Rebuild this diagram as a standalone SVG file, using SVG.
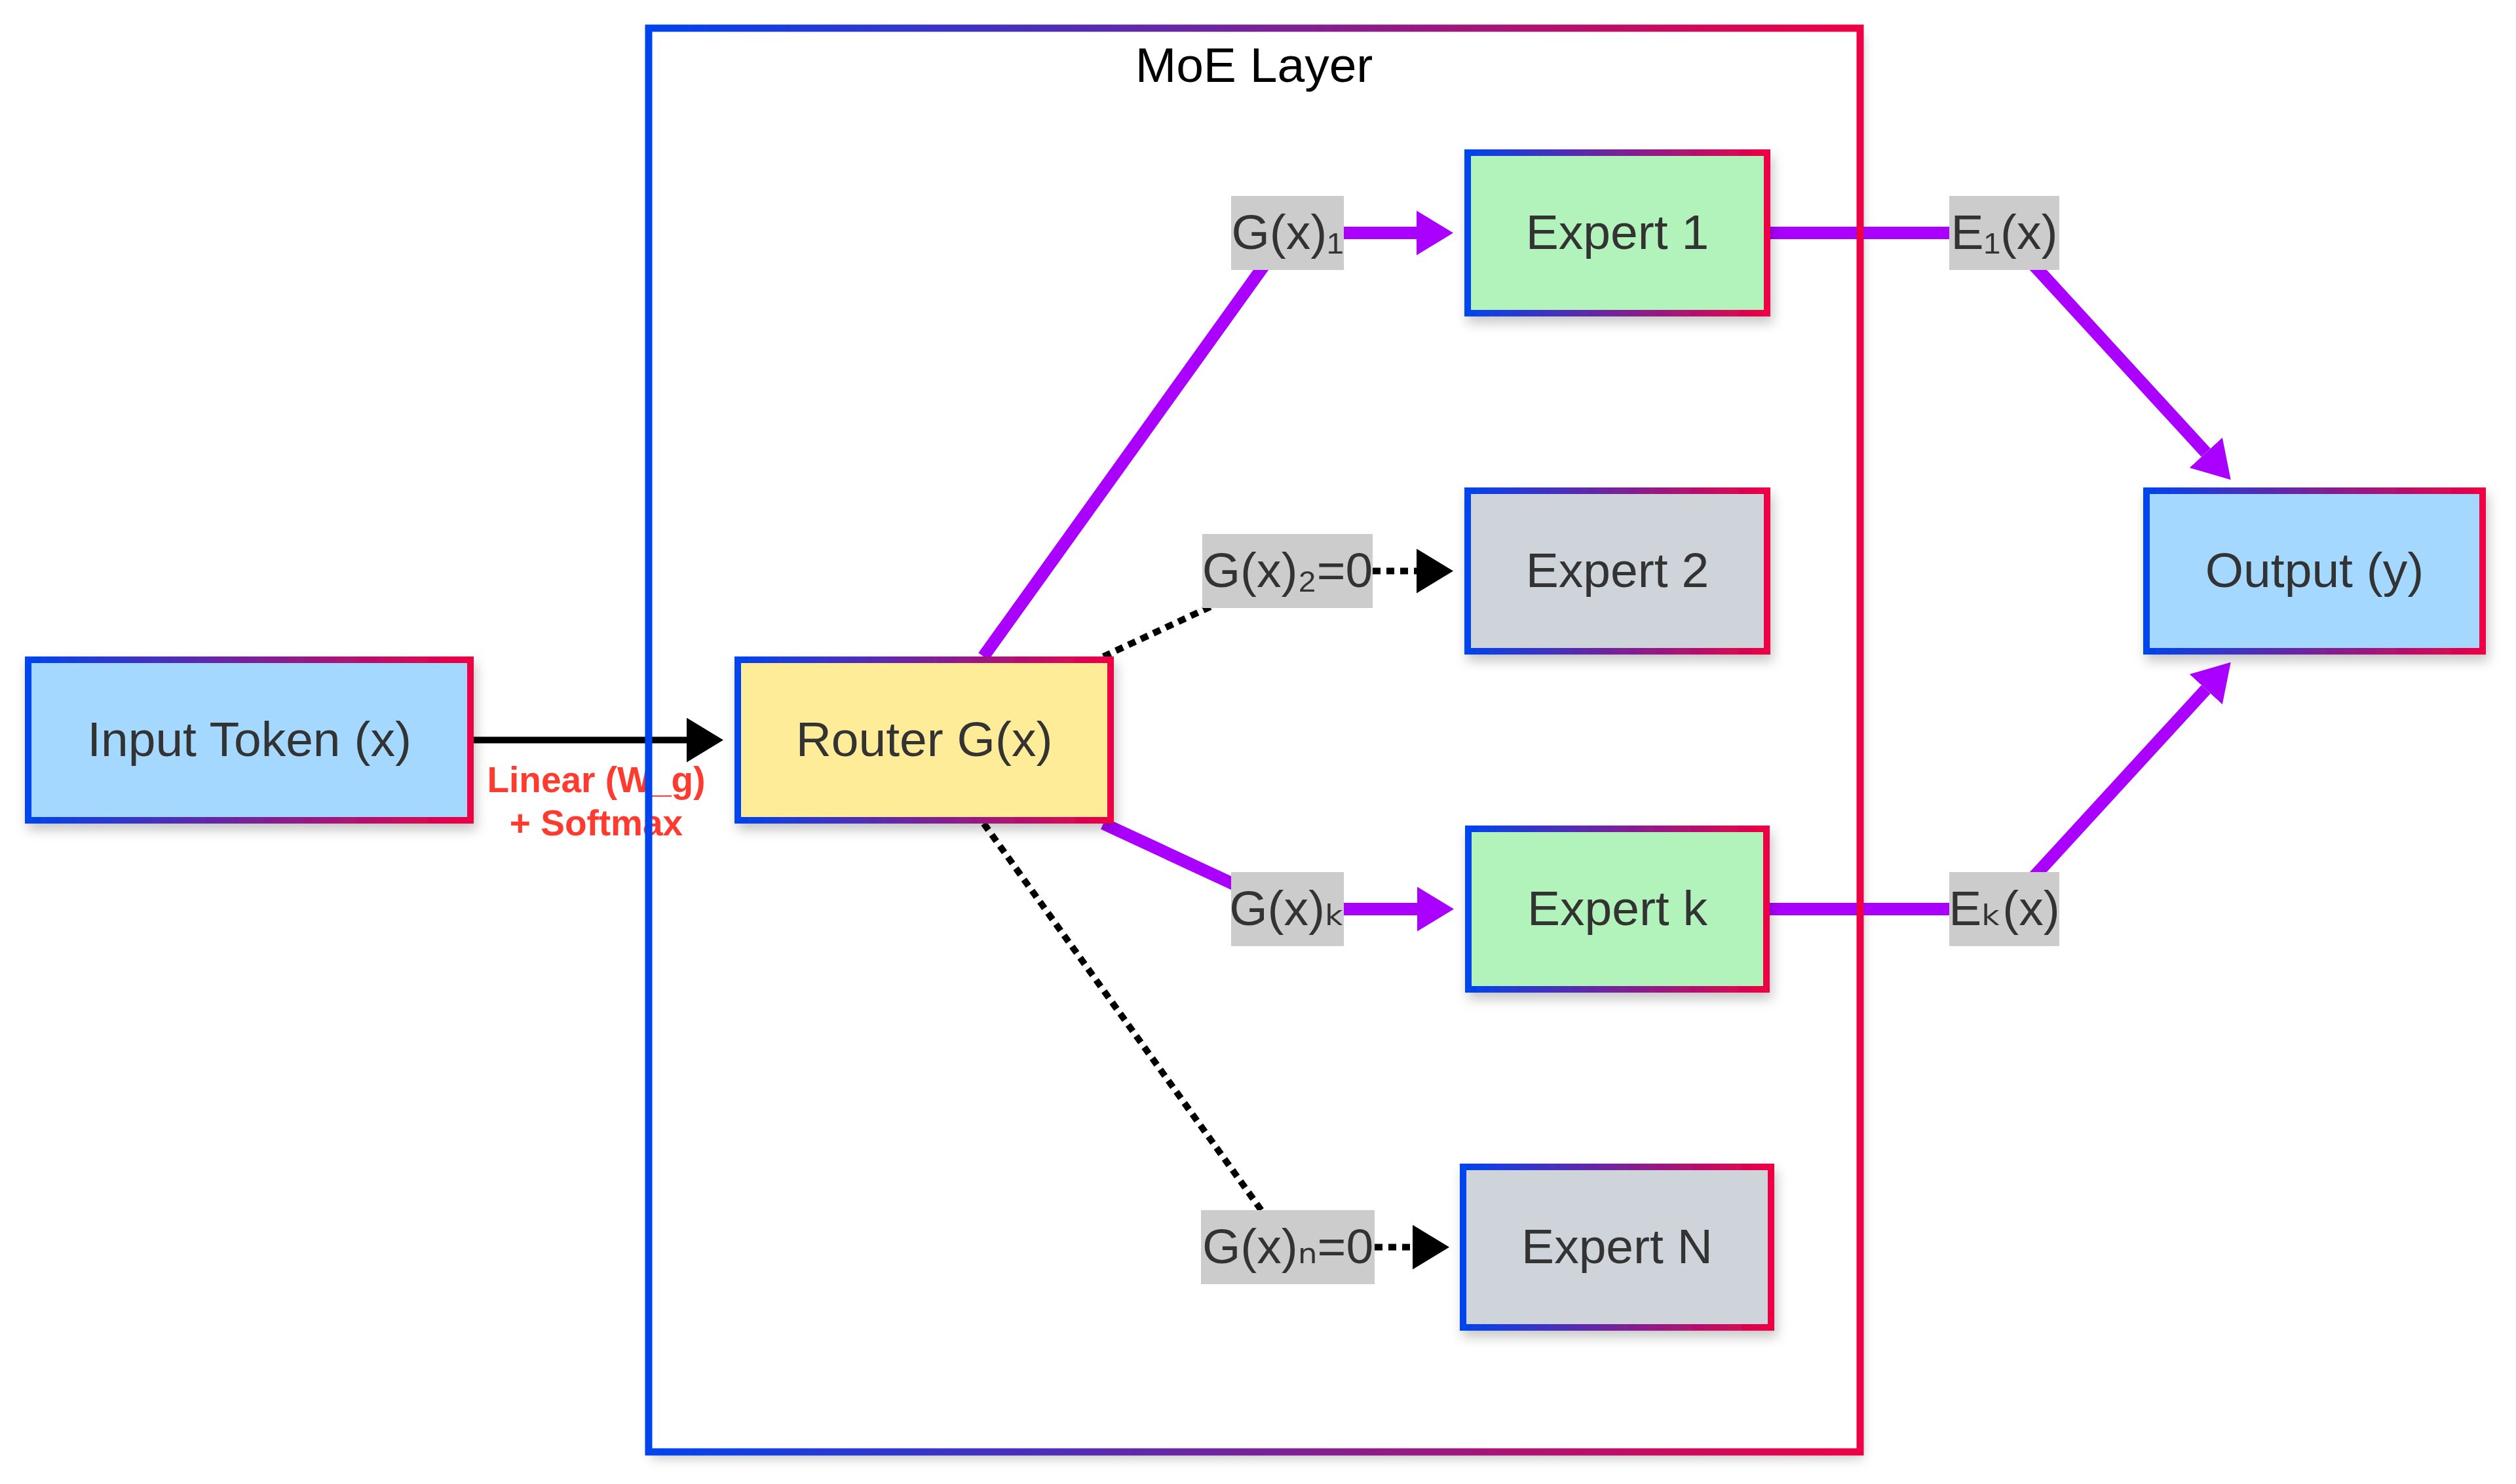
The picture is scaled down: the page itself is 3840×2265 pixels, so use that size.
<svg xmlns="http://www.w3.org/2000/svg" width="3840" height="2265" viewBox="0 0 3840 2265">
  <defs>
    <linearGradient id="bord" x1="0" y1="0" x2="1" y2="0">
      <stop offset="0" stop-color="#0044ee"/>
      <stop offset="1" stop-color="#ee0044"/>
    </linearGradient>
    <filter id="shadow" x="-10%" y="-10%" width="125%" height="130%">
      <feDropShadow dx="4" dy="10" stdDeviation="9" flood-color="#000" flood-opacity="0.22"/>
    </filter>
    <marker id="arrBlack" markerUnits="userSpaceOnUse" markerWidth="56" markerHeight="68" refX="0" refY="34" orient="auto" viewBox="0 0 56 68">
      <path d="M0,0 L56,34 L0,68 z" fill="#000"/>
    </marker>
    <marker id="arrPurple" markerUnits="userSpaceOnUse" markerWidth="56" markerHeight="68" refX="0" refY="34" orient="auto" viewBox="0 0 56 68">
      <path d="M0,0 L56,34 L0,68 z" fill="#aa00ff"/>
    </marker>
    <style>
      .node rect { stroke: url(#bord); stroke-width: 10; filter: url(#shadow); }
      .t { font-family: "Liberation Sans", Arial, Helvetica, "DejaVu Sans", sans-serif; font-size: 75px; fill: #333333; text-anchor: middle; }
      .blue { fill: #a5d8ff; }
      .yellow { fill: #ffec99; }
      .green { fill: #b2f2bb; }
      .gray { fill: #ced4da; }
      .solid { fill: none; stroke: #000; stroke-width: 10; }
      .dotted { fill: none; stroke: #000; stroke-width: 10; stroke-dasharray: 12 9; }
      .purple { fill: none; stroke: #aa00ff; stroke-width: 19; }
      .lbl rect { fill: #cccccc; }
      .red { font-family: "Liberation Sans", Arial, Helvetica, sans-serif; font-size: 55px; font-weight: bold; fill: #ff3b30; text-anchor: middle; }
    </style>
  </defs>

  <rect x="0" y="0" width="3840" height="2265" fill="#ffffff"/>

  <!-- MoE Layer cluster background -->
  <g id="moe-layer-bg">
    <rect x="990" y="43" width="1849" height="2173" fill="#ffffff" filter="url(#shadow)"/>
  </g>

  <!-- connectors -->
  <g id="connectors">
    <line class="solid" x1="723" y1="1129.5" x2="1048" y2="1129.5" marker-end="url(#arrBlack)"/>
    <line class="purple" x1="1501" y1="1002" x2="1965" y2="355.5"/>
    <line class="purple" x1="2051" y1="355.5" x2="2162" y2="355.5" marker-end="url(#arrPurple)"/>
    <line class="dotted" x1="1684" y1="1002" x2="1965" y2="871.5"/>
    <line class="dotted" x1="2095" y1="871.5" x2="2162" y2="871.5" marker-end="url(#arrBlack)"/>
    <line class="purple" x1="1684" y1="1257" x2="1965" y2="1387.5"/>
    <line class="purple" x1="2051" y1="1387.5" x2="2163" y2="1387.5" marker-end="url(#arrPurple)"/>
    <line class="dotted" x1="1501.5" y1="1257" x2="1965.5" y2="1903.5"/>
    <line class="dotted" x1="2098" y1="1903.5" x2="2156" y2="1903.5" marker-end="url(#arrBlack)"/>
    <line class="purple" x1="2702" y1="355.5" x2="3059" y2="355.5"/>
    <line class="purple" x1="3059" y1="355.5" x2="3366.8" y2="690.9" marker-end="url(#arrPurple)"/>
    <line class="purple" x1="2700" y1="1387.5" x2="3059" y2="1387.5"/>
    <line class="purple" x1="3059" y1="1387.5" x2="3366.8" y2="1052.1" marker-end="url(#arrPurple)"/>

    <g class="lbl">
      <rect x="1879" y="299" width="172" height="113"/>
      <text class="t" x="1965" y="380">G(x)₁</text>
      <rect x="1835" y="815" width="260" height="113"/>
      <text class="t" x="1965" y="896">G(x)₂=0</text>
      <rect x="1879" y="1331" width="172" height="113"/>
      <text class="t" x="1965" y="1412">G(x)ₖ</text>
      <rect x="1833" y="1847" width="265" height="113"/>
      <text class="t" x="1965.5" y="1928">G(x)ₙ=0</text>
      <rect x="2975" y="299" width="168" height="113"/>
      <text class="t" x="3059" y="380">E₁(x)</text>
      <rect x="2975" y="1331" width="168" height="113"/>
      <text class="t" x="3059" y="1412">Eₖ(x)</text>
    </g>
    <text class="red" x="910" y="1209">Linear (W_g)</text>
    <text class="red" x="910" y="1275">+ Softmax</text>
  </g>

  <!-- nodes -->
  <g id="input" class="node">
    <rect class="blue" x="43" y="1007" width="675" height="245"/>
    <text class="t" x="380.5" y="1154">Input Token (x)</text>
  </g>
  <g id="router" class="node">
    <rect class="yellow" x="1126" y="1007" width="569" height="245"/>
    <text class="t" x="1410.5" y="1154">Router G(x)</text>
  </g>
  <g id="expert1" class="node">
    <rect class="green" x="2240" y="233" width="457" height="245"/>
    <text class="t" x="2468.5" y="380">Expert 1</text>
  </g>
  <g id="expert2" class="node">
    <rect class="gray" x="2240" y="749" width="457" height="245"/>
    <text class="t" x="2468.5" y="896">Expert 2</text>
  </g>
  <g id="expertk" class="node">
    <rect class="green" x="2241" y="1265" width="455" height="245"/>
    <text class="t" x="2468.5" y="1412">Expert k</text>
  </g>
  <g id="expertN" class="node">
    <rect class="gray" x="2233" y="1781" width="470" height="245"/>
    <text class="t" x="2468" y="1928">Expert N</text>
  </g>
  <g id="output" class="node">
    <rect class="blue" x="3276" y="749" width="513" height="245"/>
    <text class="t" x="3532.5" y="896">Output (y)</text>
  </g>

  <!-- MoE Layer cluster border and title (drawn on top) -->
  <g id="moe-layer">
    <rect x="990" y="43" width="1849" height="2173" fill="none" stroke="url(#bord)" stroke-width="11"/>
    <text x="1914" y="125" font-family="'Liberation Sans', Arial, Helvetica, sans-serif" font-size="75" fill="#000000" text-anchor="middle">MoE Layer</text>
  </g>
</svg>
